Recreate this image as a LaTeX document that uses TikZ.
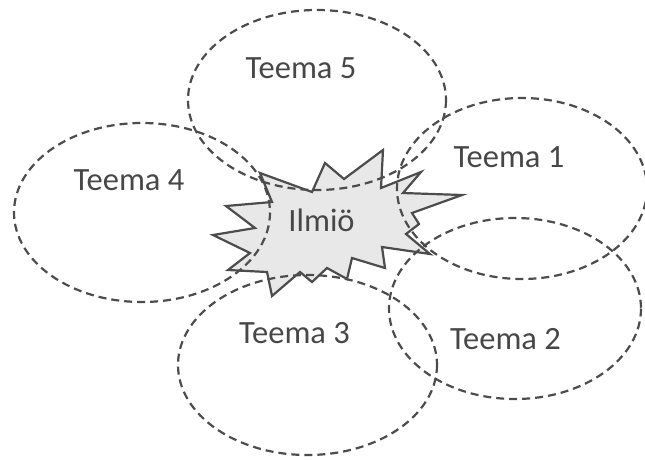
\documentclass[tikz,border=0pt]{standalone}
\usepackage{fontspec}
\setmainfont{Carlito}
\begin{document}
\begin{tikzpicture}[x=1pt,y=-1pt,
  theme/.style={draw=black!70, line width=2.2pt, dash pattern=on 8pt off 5pt},
  burst/.style={draw=black!70, line width=2.2pt, fill=black!9, line join=miter},
  label/.style={anchor=base, inner sep=0pt, text=black!72, font=\fontsize{32.5}{36}\selectfont}]
\useasboundingbox (0,0) rectangle (645,459);

% central starburst
\draw[burst] (260,173) -- (312,192) -- (325,163) -- (344,179) -- (383,150)
  -- (381,188) -- (421,172) -- (403,193) -- (462,195) -- (412,213)
  -- (419,224) -- (406,234) -- (430,254) -- (382,247) -- (385,268)
  -- (352,258) -- (347,279) -- (327,268) -- (312,282) -- (300,272)
  -- (272,296) -- (267,272) -- (228,270) -- (250,253) -- (213,235)
  -- (255,228) -- (226,206) -- (272,202) -- cycle;
\coordinate (core) at (321.5,231);

% theme ellipses
\draw[theme] (317,100) ellipse [x radius=129, y radius=90];
\draw[theme] (142,212.5) ellipse [x radius=128, y radius=89.5];
\draw[theme] (522,188.5) ellipse [x radius=125, y radius=90.5];
\draw[theme] (515,308.5) ellipse [x radius=126, y radius=90.5];
\draw[theme] (307.5,365) ellipse [x radius=129.5, y radius=90];

% labels
\node[label] (t5) at (301,78.5) {Teema 5};
\node[label] (t4) at (129,190.5) {Teema 4};
\node[label] (t1) at (509,167.5) {Teema 1};
\node[label] (t2) at (505.5,349.5) {Teema 2};
\node[label] (t3) at (294.5,343.5) {Teema 3};
\node[label] (ilm) at (core) {Ilmiö};
\end{tikzpicture}
\end{document}
